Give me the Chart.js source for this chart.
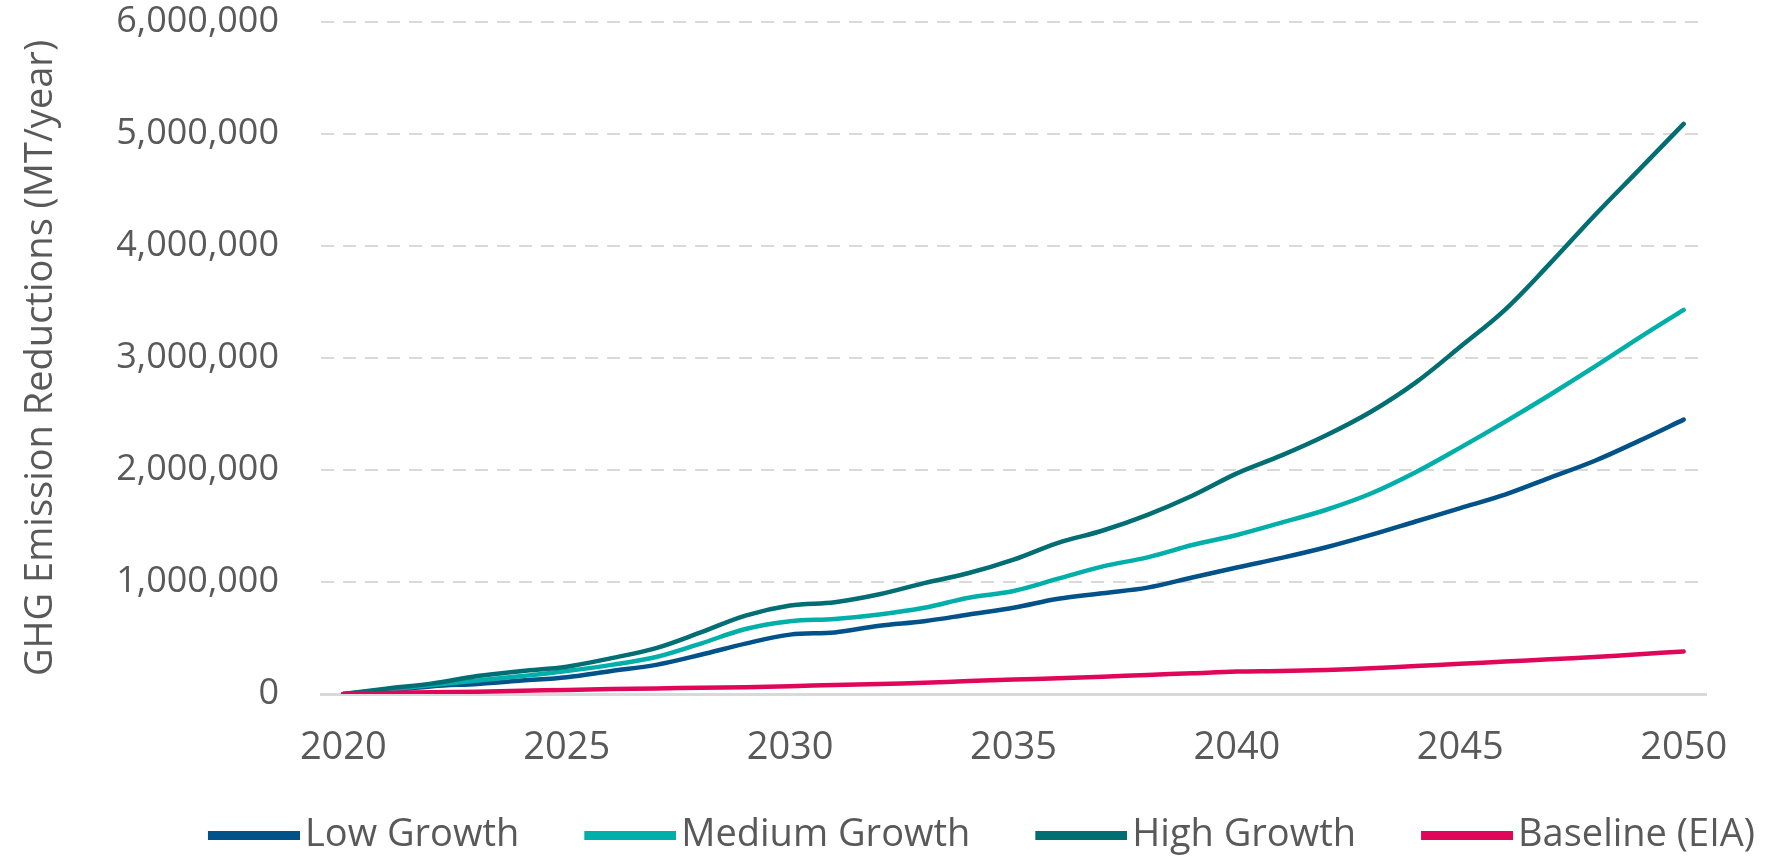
<!DOCTYPE html>
<html>
<head>
<meta charset="utf-8">
<script src="https://cdn.jsdelivr.net/npm/chart.js@4"></script>
<style>
  html, body { margin: 0; padding: 0; background: #ffffff; }
  #wrap { width: 1765px; height: 859px; position: relative; }
</style>
</head>
<body>
<div id="wrap"><canvas id="c" width="1765" height="859"></canvas></div>
<script>
// ---- data ----
const categories = ['2020','2021','2022','2023','2024','2025','2026','2027','2028','2029',
                    '2030','2031','2032','2033','2034','2035','2036','2037','2038','2039',
                    '2040','2041','2042','2043','2044','2045','2046','2047','2048','2049','2050'];
const tickLabels = ['2020','2025','2030','2035','2040','2045','2050'];

const lowGrowth = [0, 30000, 70000, 90000, 120000, 150000, 205000, 260000, 350000, 450000,
                   530000, 550000, 610000, 650000, 710000, 770000, 850000, 900000, 950000, 1040000,
                   1130000, 1215000, 1310000, 1420000, 1540000, 1660000, 1780000, 1930000, 2080000, 2260000, 2450000];
const mediumGrowth = [0, 40000, 80000, 120000, 160000, 205000, 260000, 330000, 450000, 580000,
                      650000, 670000, 710000, 770000, 860000, 920000, 1030000, 1140000, 1220000, 1330000,
                      1420000, 1530000, 1645000, 1790000, 1980000, 2200000, 2430000, 2670000, 2920000, 3180000, 3430000];
const highGrowth = [0, 50000, 95000, 160000, 205000, 244000, 320000, 410000, 550000, 700000,
                    790000, 820000, 890000, 990000, 1080000, 1200000, 1350000, 1460000, 1600000, 1770000,
                    1970000, 2130000, 2310000, 2520000, 2780000, 3100000, 3430000, 3840000, 4270000, 4680000, 5090000];
const baselineEIA = [0, 10000, 15000, 20000, 30000, 35000, 45000, 50000, 55000, 60000,
                     70000, 80000, 90000, 100000, 115000, 130000, 140000, 155000, 170000, 185000,
                     200000, 205000, 215000, 230000, 250000, 270000, 290000, 310000, 330000, 355000, 380000];

const seriesNames = ['Low Growth', 'Medium Growth', 'High Growth', 'Baseline (EIA)'];
const seriesColors = ['#005289', '#00AFA9', '#006E73', '#E0075B'];
const yAxisTitle = 'GHG Emission Reductions (MT/year)';

// ---- styling ----
const TEXT = '#595959';
const FONT = "'Open Sans', 'Segoe UI', 'DejaVu Sans', sans-serif";

// legend sample images: a thick line sitting at the right of a wider transparent canvas
function legendSample(color) {
  const cv = document.createElement('canvas');
  cv.width = 161; cv.height = 9;
  const g = cv.getContext('2d');
  g.fillStyle = color;
  g.fillRect(cv.width - 92, 0, 92, 9);
  return cv;
}
const legendImages = seriesColors.map(legendSample);

const values = [lowGrowth, mediumGrowth, highGrowth, baselineEIA];
const datasets = values.map((v, i) => ({
  label: seriesNames[i],
  data: v,
  borderColor: seriesColors[i],
  backgroundColor: seriesColors[i],
  borderWidth: 4.5,
  pointRadius: 0,
  pointHoverRadius: 0,
  tension: 0.35,
  fill: false,
  borderCapStyle: 'round',
  order: values.length - i
}));

new Chart(document.getElementById('c'), {
  type: 'line',
  data: { labels: categories, datasets },
  options: {
    responsive: false,
    animation: false,
    devicePixelRatio: 1,
    layout: { padding: { left: 18, right: 0, top: 0, bottom: -5 } },
    plugins: {
      tooltip: { enabled: false },
      legend: {
        position: 'bottom',
        align: 'end',
        labels: {
          color: TEXT,
          font: { family: FONT, size: 38 },
          usePointStyle: true,
          pointStyleWidth: 133,
          padding: 10,
          sort: (a, b) => a.datasetIndex - b.datasetIndex,
          generateLabels: (chart) => {
            const items = Chart.defaults.plugins.legend.labels.generateLabels(chart);
            items.forEach(it => { it.pointStyle = legendImages[it.datasetIndex]; it.lineWidth = 0; });
            return items;
          }
        }
      }
    },
    scales: {
      x: {
        type: 'category',
        offset: true,
        grid: { display: false, drawTicks: false },
        border: { display: true, color: '#D9D9D9', width: 3 },
        ticks: {
          autoSkip: false,
          maxRotation: 0,
          minRotation: 0,
          padding: 31,
          color: TEXT,
          font: { family: FONT, size: 38 },
          callback: function (value) {
            const lab = this.getLabelForValue(value);
            return tickLabels.includes(lab) ? lab : '';
          }
        },
        afterFit: (s) => { s.height = 112; s.paddingRight = 59; s.paddingLeft = 0; }
      },
      y: {
        min: 0,
        max: 6000000,
        grid: { color: '#D9D9D9', lineWidth: 2, drawTicks: false },
        border: { display: false, dash: [13, 9] },
        ticks: {
          stepSize: 1000000,
          padding: 42,
          color: TEXT,
          font: { family: FONT, size: 36 },
          callback: (v) => Number(v).toLocaleString('en-US')
        },
        title: {
          display: true,
          text: yAxisTitle,
          color: TEXT,
          font: { family: FONT, size: 38, weight: 'normal' },
          padding: { top: 0, bottom: 0 }
        },
        afterFit: (s) => { s.width = 303; s.paddingTop = 22; s.paddingBottom = 0; }
      }
    }
  }
});
</script>
</body>
</html>
